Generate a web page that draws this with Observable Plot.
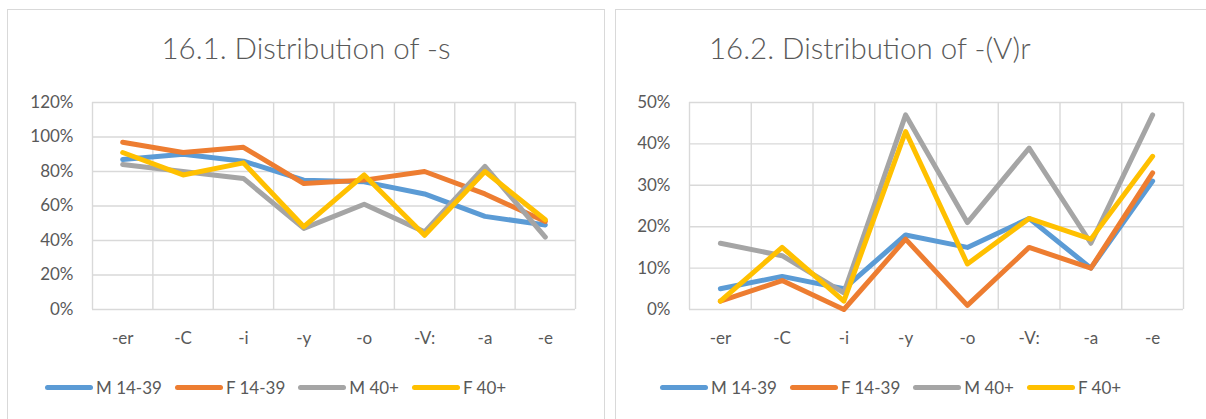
<!DOCTYPE html>
<html>
<head>
<meta charset="utf-8">
<script src="https://cdn.jsdelivr.net/npm/d3@7"></script>
<script src="https://cdn.jsdelivr.net/npm/@observablehq/plot@0.6"></script>
<style>
  html, body { margin: 0; padding: 0; background: #fff; }
  #page { position: relative; width: 1206px; height: 419px; overflow: hidden; font-family: Lato, "Open Sans", sans-serif; color: #595959; }
  .panel { position: absolute; top: 9px; height: 440px; border: 1px solid #d9d9d9; box-sizing: border-box; background: #fff; }
  .title { position: absolute; top: 30px; font-size: 29.5px; font-weight: 300; white-space: nowrap; text-align: center; color: #595959; }
  .chart { position: absolute; top: 85px; }
  .legend { position: absolute; top: 377px; display: flex; align-items: center; font-size: 17px; white-space: nowrap; }
  .legend .item { display: flex; align-items: center; margin-right: 13px; }
  .legend .sw { width: 48px; height: 5px; border-radius: 3px; margin-right: 3px; }
</style>
</head>
<body>
<div id="page"></div>
<script>
// Suffix categories along the horizontal axis
const categories = ["-er", "-C", "-i", "-y", "-o", "-V:", "-a", "-e"];

// Speaker groups and their line colours
const groups = ["M 14-39", "F 14-39", "M 40+", "F 40+"];
const groupColors = ["#5B9BD5", "#ED7D31", "#A5A5A5", "#FFC000"];

// 16.1 – share of -s (percent)
const sM1439 = [87, 90, 86, 75, 74, 67, 54, 49];
const sF1439 = [97, 91, 94, 73, 75, 80, 67, 51];
const sM40 = [84, 80, 76, 47, 61, 45, 83, 42];
const sF40 = [91, 78, 85, 48, 78, 43, 80, 52];

// 16.2 – share of -(V)r (percent)
const rM1439 = [5, 8, 5, 18, 15, 22, 10, 31];
const rF1439 = [2, 7, 0, 17, 1, 15, 10, 33];
const rM40 = [16, 13, 4, 47, 21, 39, 16, 47];
const rF40 = [2, 15, 2, 43, 11, 22, 17, 37];

// Value-axis ticks (percent)
const sTicks = [0, 20, 40, 60, 80, 100, 120];
const rTicks = [0, 10, 20, 30, 40, 50];

const page = document.getElementById("page");

function toRows(seriesList) {
  const rows = [];
  seriesList.forEach((vals, g) => {
    vals.forEach((v, i) => rows.push({group: groups[g], cat: i + 0.5, value: v / 100}));
  });
  return rows;
}

function drawPanel({left, panelWidth, titleText, titleCenter, marginLeft, series, ticks, legendLeft}) {
  const panel = document.createElement("div");
  panel.className = "panel";
  panel.style.left = left + "px";
  panel.style.width = panelWidth + "px";
  page.appendChild(panel);

  const title = document.createElement("div");
  title.className = "title";
  title.textContent = titleText;
  page.appendChild(title);
  title.style.left = (titleCenter - title.offsetWidth / 2) + "px";

  const rows = toRows(series);
  const yTicks = ticks.map(t => t / 100);
  const yMax = yTicks[yTicks.length - 1];
  const gridX = d3.range(categories.length + 1);

  const chart = Plot.plot({
    width: 597,
    height: 270,
    marginLeft,
    marginRight: 29,
    marginTop: 17,
    marginBottom: 46,
    style: {fontFamily: "Lato, 'Open Sans', sans-serif", fontSize: "17px", color: "#595959", background: "transparent"},
    x: {type: "linear", domain: [0, categories.length], axis: null},
    y: {type: "linear", domain: [0, yMax], axis: null},
    color: {domain: groups, range: groupColors},
    marks: [
      Plot.ruleY(yTicks, {stroke: "#d9d9d9", strokeWidth: 1.4}),
      Plot.ruleX(gridX, {stroke: "#d9d9d9", strokeWidth: 1.4}),
      Plot.axisY({ticks: yTicks, tickSize: 0, tickPadding: 19, tickFormat: d3.format(".0%"), fill: "#595959", label: null}),
      Plot.axisX({ticks: categories.map((c, i) => i + 0.5), tickSize: 0, tickPadding: 22,
        tickFormat: v => categories[Math.floor(v)], fill: "#595959", label: null}),
      Plot.line(rows, {x: "cat", y: "value", z: "group", stroke: "group", strokeWidth: 5,
        strokeLinejoin: "round", strokeLinecap: "round"})
    ]
  });
  chart.classList.add("chart");
  chart.style.left = left + "px";
  page.appendChild(chart);

  const legend = document.createElement("div");
  legend.className = "legend";
  legend.style.left = legendLeft + "px";
  groups.forEach((g, i) => {
    const item = document.createElement("div");
    item.className = "item";
    const sw = document.createElement("span");
    sw.className = "sw";
    sw.style.background = groupColors[i];
    const lab = document.createElement("span");
    lab.textContent = g;
    item.appendChild(sw);
    item.appendChild(lab);
    legend.appendChild(item);
  });
  page.appendChild(legend);
}

drawPanel({
  left: 7, panelWidth: 598, titleText: "16.1. Distribution of -s", titleCenter: 306,
  marginLeft: 85, series: [sM1439, sF1439, sM40, sF40], ticks: sTicks, legendLeft: 45
});

drawPanel({
  left: 615, panelWidth: 620, titleText: "16.2. Distribution of -(V)r", titleCenter: 870,
  marginLeft: 74, series: [rM1439, rF1439, rM40, rF40], ticks: rTicks, legendLeft: 660
});
</script>
</body>
</html>
